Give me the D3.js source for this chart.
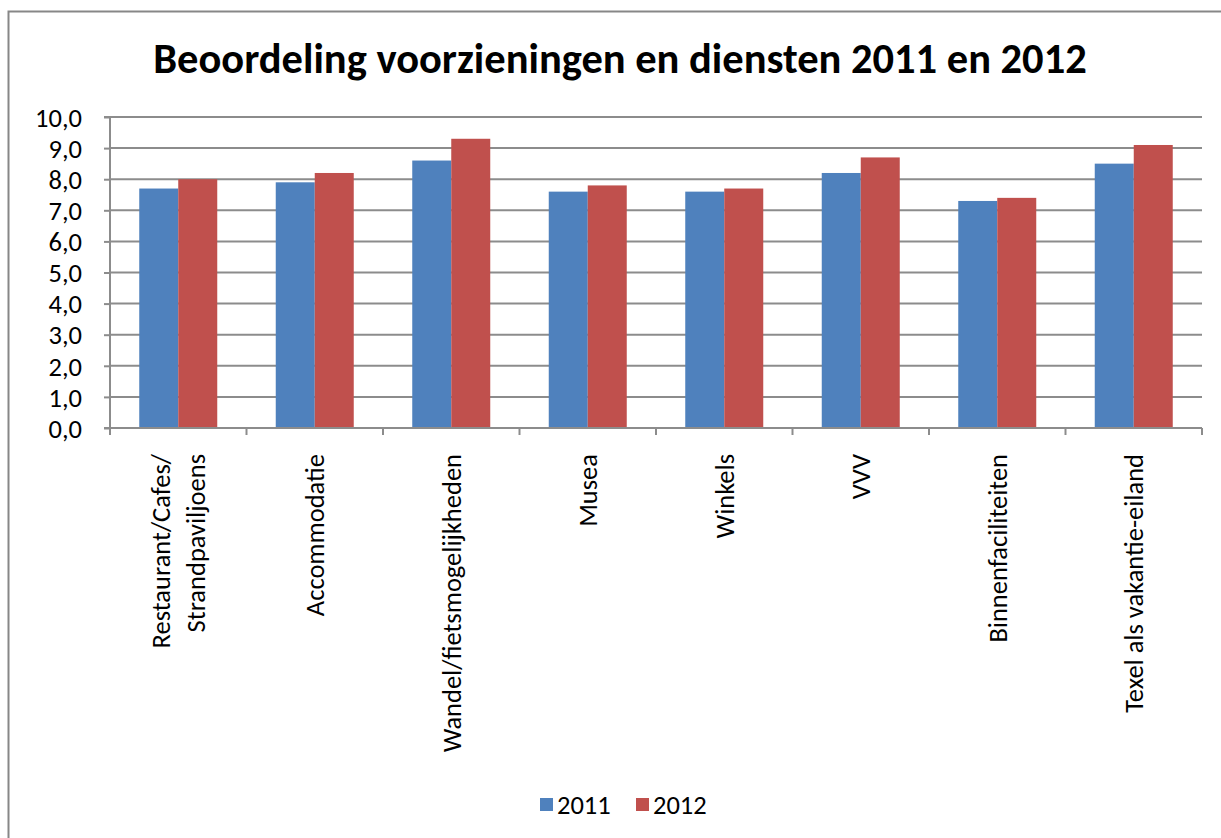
<!DOCTYPE html>
<html>
<head>
<meta charset="utf-8">
<script src="https://cdn.jsdelivr.net/npm/d3@7"></script>
<style>
  body { margin: 0; background: #fff; }
  text { font-family: Carlito, Calibri, "Open Sans", sans-serif; fill: #000; }
</style>
</head>
<body>
<svg id="chart" width="1221" height="838"></svg>
<script>
var categories = [
  ["Restaurant/Cafes/", "Strandpaviljoens"],
  ["Accommodatie"],
  ["Wandel/fietsmogelijkheden"],
  ["Musea"],
  ["Winkels"],
  ["VVV"],
  ["Binnenfaciliteiten"],
  ["Texel als vakantie-eiland"]
];
var series = ["2011", "2012"];
var values2011 = [7.7, 7.9, 8.6, 7.6, 7.6, 8.2, 7.3, 8.5];
var values2012 = [8.0, 8.2, 9.3, 7.8, 7.7, 8.7, 7.4, 9.1];
var yTicks = [0, 1, 2, 3, 4, 5, 6, 7, 8, 9, 10];
var colors = ["#4f81bd", "#c0504d"];

var svg = d3.select("#chart");

// outer chart border
svg.append("rect")
  .attr("x", 8.5).attr("y", 11.5)
  .attr("width", 1230).attr("height", 840)
  .attr("fill", "none").attr("stroke", "#878787").attr("stroke-width", 2);

svg.append("text")
  .attr("x", 620).attr("y", 73)
  .attr("text-anchor", "middle")
  .style("font-size", "42.5px").style("font-weight", "bold")
  .text("Beoordeling voorzieningen en diensten 2011 en 2012");

var plotL = 110, plotR = 1202, plotT = 117, plotB = 428;

var x = d3.scaleBand().domain(d3.range(categories.length)).range([plotL, plotR]).paddingInner(0).paddingOuter(0);
var xs = d3.scaleBand().domain(series).range([0, x.bandwidth()]).paddingInner(0).paddingOuter(0.75);
var y = d3.scaleLinear().domain([0, 10]).range([plotB, plotT]);

// grid
svg.append("g")
  .selectAll("line")
  .data(yTicks.slice(1))
  .enter().append("line")
  .attr("x1", plotL).attr("x2", plotR)
  .attr("y1", function (d) { return y(d); })
  .attr("y2", function (d) { return y(d); })
  .attr("stroke", "#8c8c8c").attr("stroke-width", 2);

// bars
var data = [values2011, values2012];
var groups = svg.append("g").selectAll("g")
  .data(categories)
  .enter().append("g")
  .attr("transform", function (d, i) { return "translate(" + x(i) + ",0)"; });

groups.selectAll("rect")
  .data(function (d, i) {
    return series.map(function (s, k) { return { s: s, v: data[k][i], k: k }; });
  })
  .enter().append("rect")
  .attr("x", function (d) { return xs(d.s); })
  .attr("width", xs.bandwidth())
  .attr("y", function (d) { return y(d.v); })
  .attr("height", function (d) { return y(0) - y(d.v); })
  .attr("fill", function (d) { return colors[d.k]; });

// y axis
var yAxis = d3.axisLeft(y)
  .tickValues(yTicks)
  .tickSize(6)
  .tickPadding(22)
  .tickFormat(function (d) { return d3.format(".1f")(d).replace(".", ","); });

var ya = svg.append("g")
  .attr("transform", "translate(" + plotL + ",0)")
  .call(yAxis);
ya.select(".domain").attr("stroke", "#8c8c8c").attr("stroke-width", 2).attr("d", "M-6," + plotT + "H0V" + plotB + "H-6");
ya.selectAll(".tick line").attr("stroke", "#8c8c8c").attr("stroke-width", 2);
ya.selectAll(".tick text").style("font-size", "26.5px").attr("fill", "#000").attr("dy", "0.35em");

// x axis line and ticks at category boundaries
svg.append("line")
  .attr("x1", plotL).attr("x2", plotR).attr("y1", plotB).attr("y2", plotB)
  .attr("stroke", "#8c8c8c").attr("stroke-width", 2);
svg.append("g").selectAll("line")
  .data(d3.range(categories.length + 1))
  .enter().append("line")
  .attr("x1", function (i) { return plotL + i * x.step(); })
  .attr("x2", function (i) { return plotL + i * x.step(); })
  .attr("y1", plotB).attr("y2", plotB + 7)
  .attr("stroke", "#8c8c8c").attr("stroke-width", 2);

// x labels rotated
var lineH = 35;
svg.append("g").selectAll("text")
  .data(categories)
  .enter().append("text")
  .attr("transform", function (d, i) {
    return "translate(" + (x(i) + x.bandwidth() / 2) + "," + (plotB + 26) + ") rotate(-90)";
  })
  .attr("text-anchor", "end")
  .style("font-size", "26.5px")
  .each(function (d) {
    var t = d3.select(this);
    var n = d.length;
    d.forEach(function (line, j) {
      t.append("tspan")
        .attr("x", 0)
        .attr("y", (j - (n - 1) / 2) * lineH)
        .attr("dy", "0.35em")
        .text(line);
    });
  });

// legend
var legend = svg.append("g").attr("transform", "translate(540,798)");
var li = legend.selectAll("g")
  .data(series)
  .enter().append("g")
  .attr("transform", function (d, i) { return "translate(" + (i * 96) + ",0)"; });
li.append("rect").attr("width", 13).attr("height", 13)
  .attr("fill", function (d, i) { return colors[i]; });
li.append("text").attr("x", 17).attr("y", 7).attr("dy", "0.35em")
  .style("font-size", "26.5px")
  .text(function (d) { return d; });
</script>
</body>
</html>
